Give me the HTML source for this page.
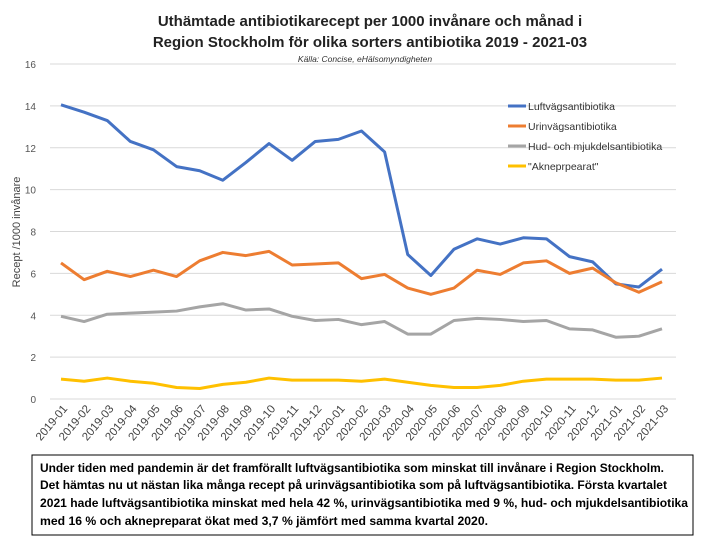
<!DOCTYPE html>
<html><head><meta charset="utf-8"><style>
body{margin:0;background:#fff;}
svg{display:block;font-family:"Liberation Sans",sans-serif;}
</style></head><body>
<svg id="chart" width="720" height="540" viewBox="0 0 720 540">
<text x="370" y="26" text-anchor="middle" font-size="15" font-weight="bold" fill="#222">Uthämtade antibiotikarecept per 1000 invånare och månad i</text>
<text x="370" y="47" text-anchor="middle" font-size="15" font-weight="bold" fill="#222">Region Stockholm för olika sorters antibiotika 2019 - 2021-03</text>
<text x="365" y="62" text-anchor="middle" font-size="8.5" font-style="italic" fill="#333">Källa: Concise, eHälsomyndigheten</text>
<text transform="translate(20,232) rotate(-90)" text-anchor="middle" font-size="11" fill="#444">Recept /1000 invånare</text>
<g id="grid"></g><g id="yticks"></g><g id="xticks"></g><g id="lines"></g>
<g>
<line x1="508" y1="106" x2="526" y2="106" stroke="#4472C4" stroke-width="3"/><text x="528" y="110" font-size="10.5" fill="#333">Luftvägsantibiotika</text>
<line x1="508" y1="126" x2="526" y2="126" stroke="#ED7D31" stroke-width="3"/><text x="528" y="130" font-size="10.5" fill="#333">Urinvägsantibiotika</text>
<line x1="508" y1="146" x2="526" y2="146" stroke="#A5A5A5" stroke-width="3"/><text x="528" y="150" font-size="10.5" fill="#333">Hud- och mjukdelsantibiotika</text>
<line x1="508" y1="166" x2="526" y2="166" stroke="#FFC000" stroke-width="3"/><text x="528" y="170" font-size="10.5" fill="#333">"Akneprpearat"</text>
</g>
<rect x="32" y="455" width="661" height="80" fill="#fff" stroke="#000" stroke-width="1"/>
<g font-size="12" font-weight="bold" fill="#000">
<text x="40" y="472" textLength="624" lengthAdjust="spacingAndGlyphs">Under tiden med pandemin är det framförallt luftvägsantibiotika som minskat till invånare i Region Stockholm.</text>
<text x="40" y="489" textLength="627" lengthAdjust="spacingAndGlyphs">Det hämtas nu ut nästan lika många recept på urinvägsantibiotika som på luftvägsantibiotika. Första kvartalet</text>
<text x="40" y="507" textLength="648" lengthAdjust="spacingAndGlyphs">2021 hade luftvägsantibiotika minskat med hela 42 %, urinvägsantibiotika med 9 %, hud- och mjukdelsantibiotika</text>
<text x="40" y="525" textLength="448" lengthAdjust="spacingAndGlyphs">med 16 % och aknepreparat ökat med 3,7 % jämfört med samma kvartal 2020.</text>
</g>
</svg>
<script>
const categories=["2019-01","2019-02","2019-03","2019-04","2019-05","2019-06","2019-07","2019-08","2019-09","2019-10","2019-11","2019-12","2020-01","2020-02","2020-03","2020-04","2020-05","2020-06","2020-07","2020-08","2020-09","2020-10","2020-11","2020-12","2021-01","2021-02","2021-03"];
const luftvag=[14.05,13.7,13.3,12.3,11.9,11.1,10.9,10.45,11.3,12.2,11.4,12.3,12.4,12.8,11.8,6.9,5.9,7.15,7.65,7.4,7.7,7.65,6.8,6.55,5.5,5.35,6.2];
const urinvag=[6.5,5.7,6.1,5.85,6.15,5.85,6.6,7.0,6.85,7.05,6.4,6.45,6.5,5.75,5.95,5.3,5.0,5.3,6.15,5.95,6.5,6.6,6.0,6.25,5.55,5.1,5.6];
const hud=[3.95,3.7,4.05,4.1,4.15,4.2,4.4,4.55,4.25,4.3,3.95,3.75,3.8,3.55,3.7,3.1,3.1,3.75,3.85,3.8,3.7,3.75,3.35,3.3,2.95,3.0,3.35];
const akne=[0.95,0.85,1.0,0.85,0.75,0.55,0.5,0.7,0.8,1.0,0.9,0.9,0.9,0.85,0.95,0.8,0.65,0.55,0.55,0.65,0.85,0.95,0.95,0.95,0.9,0.9,1.0];
const yTicks=[0,2,4,6,8,10,12,14,16];
const NS="http://www.w3.org/2000/svg";
const x0=50,x1=676,y0=399,yTop=64,yMax=16;
const sx=i=>61+i*(662-61)/(categories.length-1);
const sy=v=>y0-(v/yMax)*(y0-yTop);
function mk(tag,parent,attrs){const e=document.createElementNS(NS,tag);for(const k in attrs)e.setAttribute(k,attrs[k]);document.getElementById(parent).appendChild(e);return e;}
yTicks.forEach(t=>{
 const l=mk('line','grid',{x1:x0,x2:x1,y1:sy(t),y2:sy(t),stroke:'#d9d9d9','stroke-width':1});
 
 
 const tx=mk('text','yticks',{x:36,y:sy(t)+4,'text-anchor':'end','font-size':10,fill:'#555'});
 tx.textContent=t;
 
 
});
categories.forEach((c,i)=>{
 const tx=mk('text','xticks',{transform:`translate(${sx(i)+7},${409}) rotate(-50)`,'text-anchor':'end','font-size':11.5,fill:'#444'});
 tx.textContent=c;
 
 
});
[[luftvag,'#4472C4','line-luftvag'],[urinvag,'#ED7D31','line-urinvag'],[hud,'#A5A5A5','line-hud'],[akne,'#FFC000','line-akne']].forEach(([d,col,name])=>{
 const p=mk('polyline','lines',{points:d.map((v,i)=>sx(i)+','+sy(v)).join(' '),fill:'none',stroke:col,'stroke-width':3,'stroke-linejoin':'round'});
 
 
});
</script>
</body></html>
